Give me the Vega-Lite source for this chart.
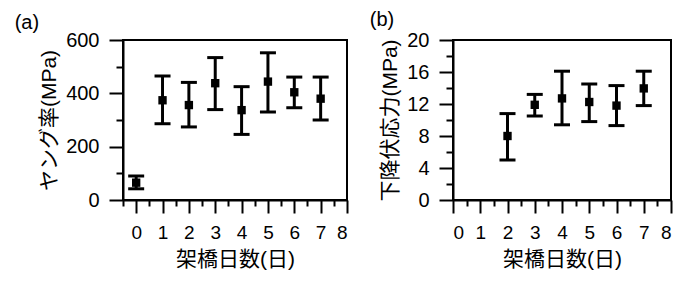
{
  "$schema": "https://vega.github.io/schema/vega-lite/v6.json",
  "padding": {"left": 13, "top": 9, "right": 5, "bottom": 5},
  "background": "white",
  "datasets": {
    "a": [
      {"day": 0, "mean": 65, "lo": 42, "hi": 90},
      {"day": 1, "mean": 374, "lo": 286, "hi": 465},
      {"day": 2, "mean": 356, "lo": 274, "hi": 441},
      {"day": 3, "mean": 438, "lo": 339, "hi": 534},
      {"day": 4, "mean": 337, "lo": 246, "hi": 425},
      {"day": 5, "mean": 444, "lo": 330, "hi": 552},
      {"day": 6, "mean": 404, "lo": 346, "hi": 461},
      {"day": 7, "mean": 380, "lo": 300, "hi": 461}
    ],
    "b": [
      {"day": 2, "mean": 8.0, "lo": 5.0, "hi": 10.8},
      {"day": 3, "mean": 11.9, "lo": 10.5, "hi": 13.2},
      {"day": 4, "mean": 12.7, "lo": 9.4, "hi": 16.1},
      {"day": 5, "mean": 12.25, "lo": 9.8, "hi": 14.5},
      {"day": 6, "mean": 11.8, "lo": 9.3, "hi": 14.3},
      {"day": 7, "mean": 13.95, "lo": 11.8, "hi": 16.1}
    ]
  },
  "config": {
    "view": {"stroke": "black", "strokeWidth": 2},
    "axis": {
      "grid": false,
      "domainColor": "black",
      "domainWidth": 2,
      "tickColor": "black",
      "tickWidth": 2,
      "labelFont": "Liberation Sans",
      "labelColor": "black",
      "labelOverlap": false,
      "labelPadding": 10,
      "titleFont": "Liberation Sans, Noto Sans CJK JP",
      "titleFontSize": 21,
      "titleFontWeight": "normal",
      "titleColor": "black",
      "titlePadding": 6
    },
    "axisX": {"labelFontSize": 19},
    "axisY": {"labelFontSize": 20},
    "title": {"font": "Liberation Sans", "fontSize": 20, "fontWeight": "normal", "color": "black", "anchor": "start", "frame": "bounds"}
  },
  "spacing": 19,
  "hconcat": [
    {
      "width": 224,
      "height": 160,
      "title": {"text": "(a)", "dx": -24, "offset": -3},
      "data": {"name": "a"},
      "layer": [
        {
          "mark": {"type": "rule", "strokeWidth": 3, "color": "black"},
          "encoding": {
            "x": {"field": "day", "type": "quantitative", "scale": {"domain": [-0.5, 8], "nice": false, "zero": false},
              "axis": {"title": "架橋日数(日)", "values": [-0.5, 0, 0.5, 1, 1.5, 2, 2.5, 3, 3.5, 4, 4.5, 5, 5.5, 6, 6.5, 7, 7.5, 8], "labelOverlap": false,
                "labelExpr": "datum.value % 1 == 0 ? format(datum.value, 'd') : ''",
                "tickSize": {"condition": {"test": "datum.value % 1 == 0", "value": 13}, "value": 6}}},
            "y": {"field": "lo", "type": "quantitative", "scale": {"domain": [0, 600], "nice": false},
              "axis": {"title": "ヤング率(MPa)", "values": [0, 100, 200, 300, 400, 500, 600], "labelOverlap": false,
                "labelExpr": "datum.value % 200 == 0 ? datum.label : ''",
                "tickSize": {"condition": {"test": "datum.value % 200 == 0", "value": 14}, "value": 7}}},
            "y2": {"field": "hi"}
          }
        },
        {
          "mark": {"type": "tick", "orient": "horizontal", "size": 16, "thickness": 3, "color": "black", "opacity": 1},
          "encoding": {
            "x": {"field": "day", "type": "quantitative",
              "axis": {"title": "架橋日数(日)", "values": [-0.5, 0, 0.5, 1, 1.5, 2, 2.5, 3, 3.5, 4, 4.5, 5, 5.5, 6, 6.5, 7, 7.5, 8], "labelOverlap": false,
                "labelExpr": "datum.value % 1 == 0 ? format(datum.value, 'd') : ''",
                "tickSize": {"condition": {"test": "datum.value % 1 == 0", "value": 13}, "value": 6}}},
            "y": {"field": "lo", "type": "quantitative",
              "axis": {"title": "ヤング率(MPa)", "values": [0, 100, 200, 300, 400, 500, 600], "labelOverlap": false,
                "labelExpr": "datum.value % 200 == 0 ? datum.label : ''",
                "tickSize": {"condition": {"test": "datum.value % 200 == 0", "value": 14}, "value": 7}}}
          }
        },
        {
          "mark": {"type": "tick", "orient": "horizontal", "size": 16, "thickness": 3, "color": "black", "opacity": 1},
          "encoding": {
            "x": {"field": "day", "type": "quantitative",
              "axis": {"title": "架橋日数(日)", "values": [-0.5, 0, 0.5, 1, 1.5, 2, 2.5, 3, 3.5, 4, 4.5, 5, 5.5, 6, 6.5, 7, 7.5, 8], "labelOverlap": false,
                "labelExpr": "datum.value % 1 == 0 ? format(datum.value, 'd') : ''",
                "tickSize": {"condition": {"test": "datum.value % 1 == 0", "value": 13}, "value": 6}}},
            "y": {"field": "hi", "type": "quantitative",
              "axis": {"title": "ヤング率(MPa)", "values": [0, 100, 200, 300, 400, 500, 600], "labelOverlap": false,
                "labelExpr": "datum.value % 200 == 0 ? datum.label : ''",
                "tickSize": {"condition": {"test": "datum.value % 200 == 0", "value": 14}, "value": 7}}}
          }
        },
        {
          "mark": {"type": "point", "shape": "square", "filled": true, "size": 70, "color": "black", "opacity": 1},
          "encoding": {
            "x": {"field": "day", "type": "quantitative",
              "axis": {"title": "架橋日数(日)", "values": [-0.5, 0, 0.5, 1, 1.5, 2, 2.5, 3, 3.5, 4, 4.5, 5, 5.5, 6, 6.5, 7, 7.5, 8], "labelOverlap": false,
                "labelExpr": "datum.value % 1 == 0 ? format(datum.value, 'd') : ''",
                "tickSize": {"condition": {"test": "datum.value % 1 == 0", "value": 13}, "value": 6}}},
            "y": {"field": "mean", "type": "quantitative",
              "axis": {"title": "ヤング率(MPa)", "values": [0, 100, 200, 300, 400, 500, 600], "labelOverlap": false,
                "labelExpr": "datum.value % 200 == 0 ? datum.label : ''",
                "tickSize": {"condition": {"test": "datum.value % 200 == 0", "value": 14}, "value": 7}}}
          }
        }
      ]
    },
    {
      "width": 218,
      "height": 160,
      "title": {"text": "(b)", "dx": -10, "offset": 0},
      "data": {"name": "b"},
      "layer": [
        {
          "mark": {"type": "rule", "strokeWidth": 3, "color": "black"},
          "encoding": {
            "x": {"field": "day", "type": "quantitative", "scale": {"domain": [0, 8], "nice": false, "zero": false},
              "axis": {"title": "架橋日数(日)", "values": [0, 0.5, 1, 1.5, 2, 2.5, 3, 3.5, 4, 4.5, 5, 5.5, 6, 6.5, 7, 7.5, 8], "labelOverlap": false,
                "labelExpr": "datum.value % 1 == 0 ? format(datum.value, 'd') : ''",
                "tickSize": {"condition": {"test": "datum.value % 1 == 0", "value": 13}, "value": 6}}},
            "y": {"field": "lo", "type": "quantitative", "scale": {"domain": [0, 20], "nice": false},
              "axis": {"title": "下降伏応力(MPa)", "values": [0, 2, 4, 6, 8, 10, 12, 14, 16, 18, 20], "labelOverlap": false,
                "labelExpr": "datum.value % 4 == 0 ? datum.label : ''",
                "tickSize": {"condition": {"test": "datum.value % 4 == 0", "value": 14}, "value": 7}}},
            "y2": {"field": "hi"}
          }
        },
        {
          "mark": {"type": "tick", "orient": "horizontal", "size": 16, "thickness": 3, "color": "black", "opacity": 1},
          "encoding": {
            "x": {"field": "day", "type": "quantitative",
              "axis": {"title": "架橋日数(日)", "values": [0, 0.5, 1, 1.5, 2, 2.5, 3, 3.5, 4, 4.5, 5, 5.5, 6, 6.5, 7, 7.5, 8], "labelOverlap": false,
                "labelExpr": "datum.value % 1 == 0 ? format(datum.value, 'd') : ''",
                "tickSize": {"condition": {"test": "datum.value % 1 == 0", "value": 13}, "value": 6}}},
            "y": {"field": "lo", "type": "quantitative",
              "axis": {"title": "下降伏応力(MPa)", "values": [0, 2, 4, 6, 8, 10, 12, 14, 16, 18, 20], "labelOverlap": false,
                "labelExpr": "datum.value % 4 == 0 ? datum.label : ''",
                "tickSize": {"condition": {"test": "datum.value % 4 == 0", "value": 14}, "value": 7}}}
          }
        },
        {
          "mark": {"type": "tick", "orient": "horizontal", "size": 16, "thickness": 3, "color": "black", "opacity": 1},
          "encoding": {
            "x": {"field": "day", "type": "quantitative",
              "axis": {"title": "架橋日数(日)", "values": [0, 0.5, 1, 1.5, 2, 2.5, 3, 3.5, 4, 4.5, 5, 5.5, 6, 6.5, 7, 7.5, 8], "labelOverlap": false,
                "labelExpr": "datum.value % 1 == 0 ? format(datum.value, 'd') : ''",
                "tickSize": {"condition": {"test": "datum.value % 1 == 0", "value": 13}, "value": 6}}},
            "y": {"field": "hi", "type": "quantitative",
              "axis": {"title": "下降伏応力(MPa)", "values": [0, 2, 4, 6, 8, 10, 12, 14, 16, 18, 20], "labelOverlap": false,
                "labelExpr": "datum.value % 4 == 0 ? datum.label : ''",
                "tickSize": {"condition": {"test": "datum.value % 4 == 0", "value": 14}, "value": 7}}}
          }
        },
        {
          "mark": {"type": "point", "shape": "square", "filled": true, "size": 70, "color": "black", "opacity": 1},
          "encoding": {
            "x": {"field": "day", "type": "quantitative",
              "axis": {"title": "架橋日数(日)", "values": [0, 0.5, 1, 1.5, 2, 2.5, 3, 3.5, 4, 4.5, 5, 5.5, 6, 6.5, 7, 7.5, 8], "labelOverlap": false,
                "labelExpr": "datum.value % 1 == 0 ? format(datum.value, 'd') : ''",
                "tickSize": {"condition": {"test": "datum.value % 1 == 0", "value": 13}, "value": 6}}},
            "y": {"field": "mean", "type": "quantitative",
              "axis": {"title": "下降伏応力(MPa)", "values": [0, 2, 4, 6, 8, 10, 12, 14, 16, 18, 20], "labelOverlap": false,
                "labelExpr": "datum.value % 4 == 0 ? datum.label : ''",
                "tickSize": {"condition": {"test": "datum.value % 4 == 0", "value": 14}, "value": 7}}}
          }
        }
      ]
    }
  ]
}
